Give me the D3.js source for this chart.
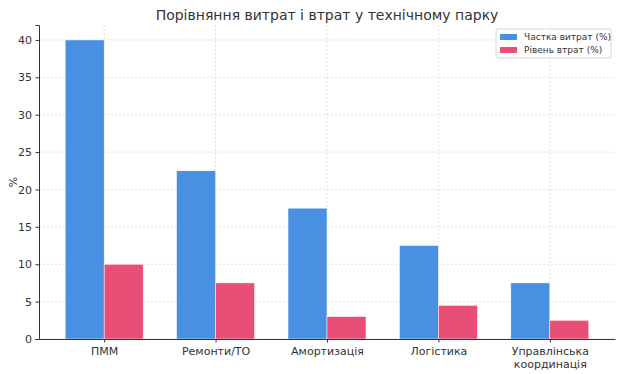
<!DOCTYPE html>
<html lang="uk">
<head>
<meta charset="UTF-8">
<title>Порівняння витрат і втрат</title>
<script src="https://d3js.org/d3.v7.min.js"></script>
<style>
  body { margin: 0; background: #fff; }
  svg text { font-family: "DejaVu Sans", sans-serif; fill: #333; }
</style>
</head>
<body>
<div id="chart"></div>
<script>
// chart data
var categories = ["ПММ", "Ремонти/ТО", "Амортизація", "Логістика", "Управлінська\nкоординація"];
var costShare = [40, 22.5, 17.5, 12.5, 7.5];
var lossLevel = [10, 7.5, 3, 4.5, 2.5];
var seriesNames = ["Частка витрат (%)", "Рівень втрат (%)"];
var seriesColors = ["#4a90e2", "#e94e77"];
var yTicks = [0, 5, 10, 15, 20, 25, 30, 35, 40];

var W = 624, H = 374;
var margin = {top: 25, right: 9, bottom: 35, left: 39};
var width = W - margin.left - margin.right,
    height = H - margin.top - margin.bottom;

var svg = d3.select("#chart").append("svg")
  .attr("width", W).attr("height", H);

var g = svg.append("g")
  .attr("transform", "translate(" + margin.left + "," + margin.top + ")");

// x positions like matplotlib: index +/- 0.35, 5% margins
var barW = 0.35;
var span = categories.length - 1 + 2 * barW;
var x = d3.scaleLinear()
  .domain([-barW - 0.05 * span, categories.length - 1 + barW + 0.05 * span])
  .range([0, width]);
var y = d3.scaleLinear().domain([0, 42]).range([height, 0]);

// grid
g.append("g").selectAll("line").data(yTicks).enter().append("line")
  .attr("x1", 0).attr("x2", width)
  .attr("y1", function(d) { return y(d); }).attr("y2", function(d) { return y(d); })
  .attr("stroke", "#d8d8d8").attr("stroke-width", 0.8).attr("stroke-dasharray", "2,2");
g.append("g").selectAll("line").data(categories).enter().append("line")
  .attr("x1", function(d, i) { return x(i); }).attr("x2", function(d, i) { return x(i); })
  .attr("y1", 0).attr("y2", height)
  .attr("stroke", "#d8d8d8").attr("stroke-width", 0.8).attr("stroke-dasharray", "2,2");

// bars
var series = [costShare, lossLevel];
series.forEach(function(vals, s) {
  g.append("g").selectAll("rect").data(vals).enter().append("rect")
    .attr("x", function(d, i) { return x(i - barW + s * barW); })
    .attr("width", x(barW) - x(0))
    .attr("y", function(d) { return y(d); })
    .attr("height", function(d) { return y(0) - y(d); })
    .attr("fill", seriesColors[s])
    .attr("stroke", "#fff").attr("stroke-width", 0.5);
});

// y axis
var yAxis = g.append("g")
  .call(d3.axisLeft(y).tickValues(yTicks).tickSize(3.5).tickPadding(3.5));
yAxis.selectAll("text").style("font-size", "11px");
yAxis.select(".domain").attr("stroke", "#333");
yAxis.selectAll(".tick line").attr("stroke", "#333");

// x axis
var xAxis = g.append("g")
  .attr("transform", "translate(0," + height + ")")
  .call(d3.axisBottom(x).tickValues(d3.range(categories.length)).tickSize(3.5).tickSizeOuter(0).tickFormat(""));
xAxis.select(".domain").attr("stroke", "#333");
xAxis.selectAll(".tick line").attr("stroke", "#333");
xAxis.selectAll(".tick").each(function(d) {
  var lines = categories[d].split("\n");
  var t = d3.select(this).append("text")
    .attr("text-anchor", "middle").style("font-size", "11px").attr("fill", "#333");
  lines.forEach(function(l, k) {
    t.append("tspan").attr("x", 0).attr("y", 16 + k * 12.5).text(l);
  });
});

// y label
svg.append("text")
  .attr("transform", "translate(17," + (margin.top + height / 2) + ") rotate(-90)")
  .attr("text-anchor", "middle").style("font-size", "11px").text("%");

// title
svg.append("text")
  .attr("x", margin.left + width / 2).attr("y", 20)
  .attr("text-anchor", "middle").style("font-size", "14px").text("Порівняння витрат і втрат у технічному парку");

// legend
var lg = svg.append("g").attr("transform", "translate(496,29)");
lg.append("rect").attr("width", 115).attr("height", 29).attr("rx", 2)
  .attr("fill", "#fff").attr("fill-opacity", 0.85).attr("stroke", "#ccc").attr("stroke-width", 0.8);
seriesNames.forEach(function(n, i) {
  lg.append("rect").attr("x", 4).attr("y", 5 + i * 13).attr("width", 17).attr("height", 6)
    .attr("fill", seriesColors[i]);
  lg.append("text").attr("x", 28).attr("y", 11 + i * 13).style("font-size", "9px").text(n);
});
</script>
</body>
</html>
